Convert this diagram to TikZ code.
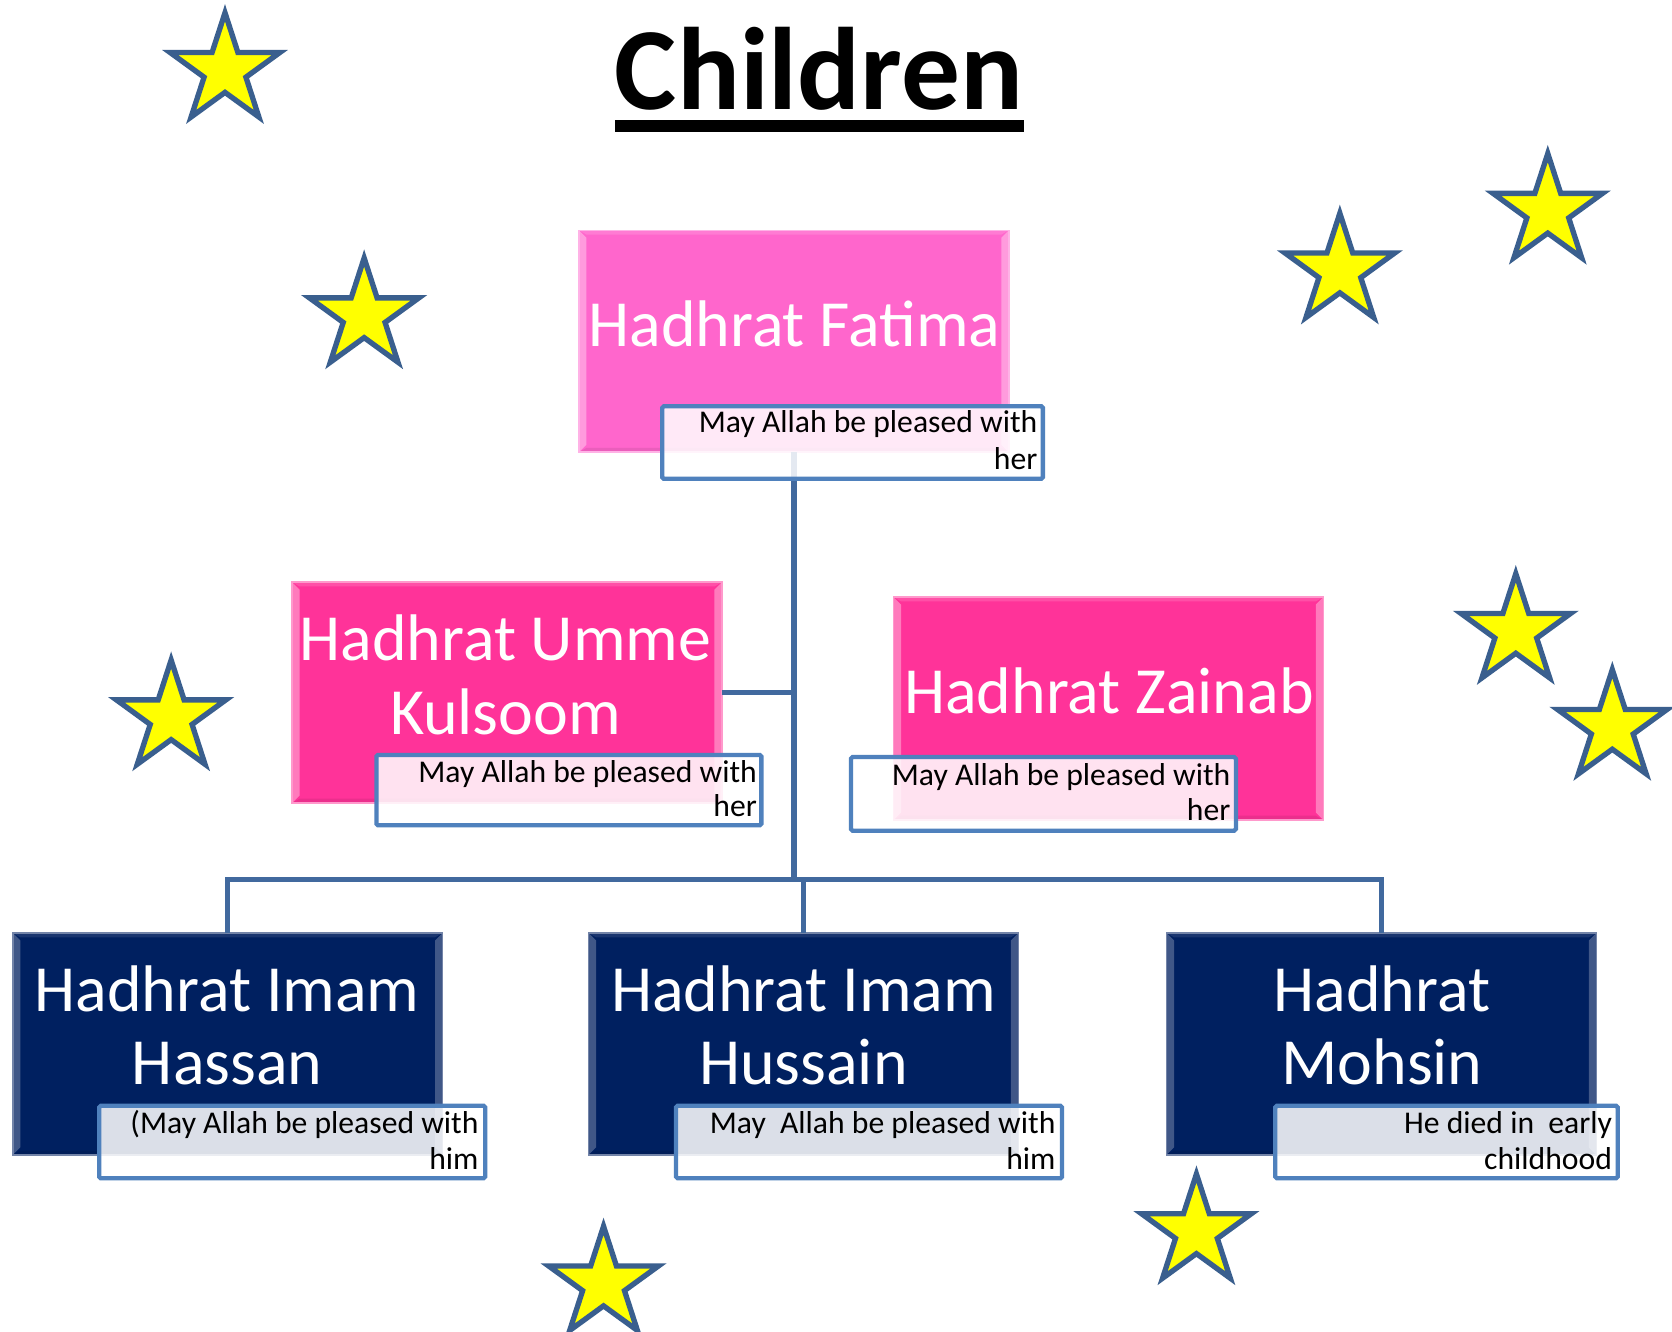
\documentclass[tikz,border=0pt]{standalone}
\usepackage{fontspec}
\setmainfont{Carlito}
\usetikzlibrary{shapes.geometric}
\definecolor{pinkA}{HTML}{FF66CC}
\definecolor{pinkB}{HTML}{FF3399}
\definecolor{navy}{HTML}{002060}
\definecolor{connblue}{HTML}{41699E}
\definecolor{capblue}{HTML}{4F81BD}
\definecolor{starblue}{HTML}{3A5F8E}
\definecolor{staryellow}{HTML}{FFFF00}
\begin{document}
\begin{tikzpicture}[x=1pt,y=-1pt,
  bevel/.style={path picture={
    \fill[white, opacity=#1]
      (path picture bounding box.north west) -- ([shift={(7,7)}]path picture bounding box.north west)
      -- ([shift={(7,-7)}]path picture bounding box.south west) -- (path picture bounding box.south west) -- cycle;
    \fill[white, opacity=#1]
      (path picture bounding box.north east) -- ([shift={(-7,7)}]path picture bounding box.north east)
      -- ([shift={(-7,-7)}]path picture bounding box.south east) -- (path picture bounding box.south east) -- cycle;
    \fill[white, opacity=0.4*#1]
      (path picture bounding box.north west) -- ([shift={(7,4)}]path picture bounding box.north west)
      -- ([shift={(-7,4)}]path picture bounding box.north east) -- (path picture bounding box.north east) -- cycle;
    \fill[black, opacity=0.08]
      (path picture bounding box.south west) -- ([shift={(7,-4)}]path picture bounding box.south west)
      -- ([shift={(-7,-4)}]path picture bounding box.south east) -- (path picture bounding box.south east) -- cycle;
  }},
  boxbase/.style={rectangle, inner sep=0pt, outer sep=0pt, anchor=north west,
    minimum width=403pt, minimum height=208pt, line width=1.5pt},
  pinkbox/.style={boxbase, fill=pinkA, draw=pinkA!50!white, bevel=0.35},
  deepbox/.style={boxbase, fill=pinkB, draw=pinkB!50!white, bevel=0.35},
  navybox/.style={boxbase, fill=navy, draw=navy!55!white, bevel=0.25},
  capbox/.style={rectangle, inner sep=0pt, outer sep=0pt, anchor=north west,
    minimum height=68pt, draw=capblue, line width=4pt, rounded corners=1.5pt,
    fill=white, fill opacity=0.86},
  bigtext/.style={text=white, font=\fontsize{61.8}{72}\selectfont, anchor=base, inner sep=0pt},
  captext/.style={text=black, font=\fontsize{29.7}{34}\selectfont, anchor=base east, inner sep=0pt},
  conn/.style={draw=connblue, line width=5pt, line join=miter},
  starnode/.style={star, star points=5, star point ratio=2.618, minimum size=108pt,
    inner sep=0pt, outer sep=0pt, fill=staryellow, draw=starblue, line width=5pt}
]
\useasboundingbox[fill=white] (0,0) rectangle (1568,1249);

% title
\node[font=\fontsize{110}{130}\selectfont\bfseries, anchor=base, inner sep=0pt] (title) at (768,103) {Children};
\node[fill=black, minimum width=383.6pt, minimum height=10.5pt, inner sep=0pt] (underline) at (768.5,118.2) {};

% stars
\node[starnode] (s1) at (211,66) {};
\node[starnode] (s2) at (341.5,296) {};
\node[starnode] (s3) at (1256.5,254) {};
\node[starnode] (s4) at (1451.5,198) {};
\node[starnode] (s5) at (160.5,673) {};
\node[starnode] (s6) at (1421.5,592) {};
\node[starnode] (s7) at (1512,682) {};
\node[starnode] (s8) at (1122,1155) {};
\node[starnode] (s9) at (566,1204) {};

% boxes
\node[pinkbox] (fatima) at (543,216) {};
\node[deepbox, minimum height=207pt] (umme) at (274,546) {};
\node[deepbox, minimum height=209pt] (zainab) at (838,560) {};
\node[navybox] (hassan) at (12,875) {};
\node[navybox] (hussain) at (552,875) {};
\node[navybox] (mohsin) at (1094,875) {};

% connectors
\coordinate (bar) at (745,825);
\draw[conn] (fatima.south) -- (fatima.south |- bar);
\draw[conn] (umme.east) -- (umme.east -| fatima.south);
\draw[conn] (hassan.north) -- (hassan.north |- bar) -- (mohsin.north |- bar) -- (mohsin.north);
\draw[conn] (hussain.north |- bar) -- (hussain.north);

% box texts
\node[bigtext] (fatimaT) at (745,324.5) {Hadhrat Fatima};
\node[bigtext] (ummeT1) at (474,619) {Hadhrat Umme};
\node[bigtext] (ummeT2) at (474,688.7) {Kulsoom};
\node[bigtext] (zainabT) at (1040,669) {Hadhrat Zainab};
\node[bigtext] (hassanT1) at (213,948.7) {Hadhrat Imam};
\node[bigtext] (hassanT2) at (213,1017.5) {Hassan};
\node[bigtext] (hussainT1) at (753.5,948.7) {Hadhrat Imam};
\node[bigtext] (hussainT2) at (753.5,1017.5) {Hussain};
\node[bigtext] (mohsinT1) at (1296,948.7) {Hadhrat};
\node[bigtext] (mohsinT2) at (1296,1017.5) {Mohsin};

% caption boxes
\node[capbox, minimum width=357pt] (fatimacap) at (621,381) {};
\node[capbox, minimum width=361pt, minimum height=66pt] (ummecap) at (353,708) {};
\node[capbox, minimum width=361pt, minimum height=69pt] (zainabcap) at (798,710) {};
\node[capbox, minimum width=362pt] (hassancap) at (93,1037) {};
\node[capbox, minimum width=362pt] (hussaincap) at (634,1037) {};
\node[capbox, minimum width=321pt] (mohsincap) at (1196,1037) {};

% caption texts
\node[captext] (fatimac1) at (973,405.8) {May Allah be pleased with};
\node[captext] (fatimac2) at (973,440.1) {her};
\node[captext] (ummec1) at (710,733.7) {May Allah be pleased with};
\node[captext] (ummec2) at (710,765.9) {her};
\node[captext] (zainabc1) at (1154,736.2) {May Allah be pleased with};
\node[captext] (zainabc2) at (1154,769.6) {her};
\node[captext] (hassanc1) at (449,1062.9) {(May Allah be pleased with};
\node[captext] (hassanc2) at (449,1096.6) {him};
\node[captext] (hussainc1) at (990,1062.9) {May\ \ Allah be pleased with};
\node[captext] (hussainc2) at (990,1096.6) {him};
\node[captext] (mohsinc1) at (1512,1062.9) {He died in\ \ early};
\node[captext] (mohsinc2) at (1512,1096.6) {childhood};
\end{tikzpicture}
\end{document}
